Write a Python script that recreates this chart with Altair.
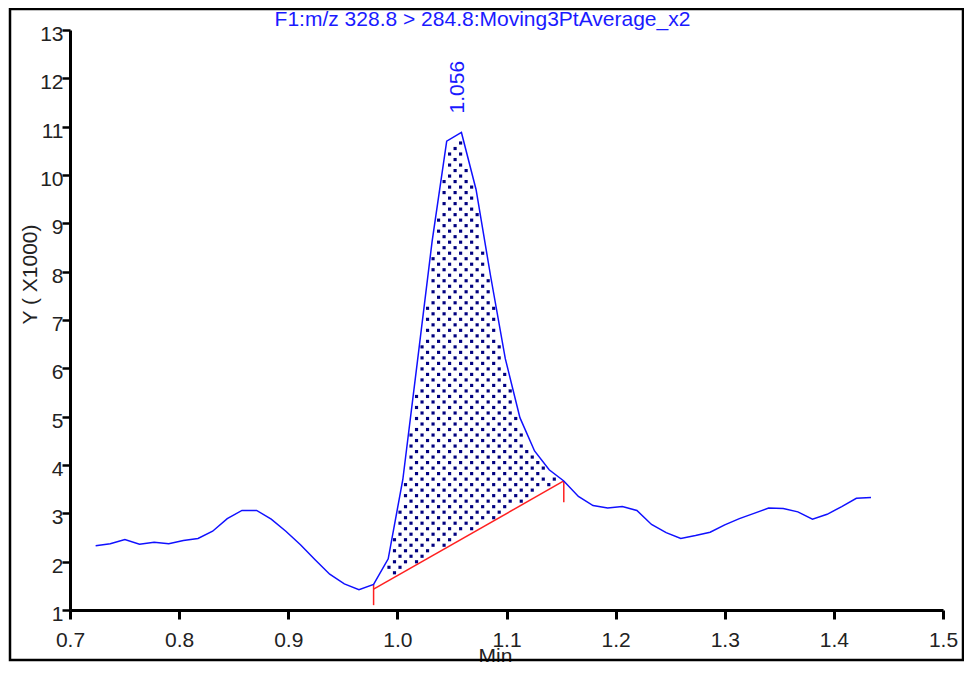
import altair as alt
import numpy as np
import pandas as pd

# ---- data ----
time_min = [0.7235, 0.7369, 0.7503, 0.7637, 0.7771, 0.7905, 0.8039, 0.8173, 0.8307, 0.8441,
            0.8576, 0.8710, 0.8844, 0.8978, 0.9112, 0.9246, 0.9380, 0.9514, 0.9648, 0.9782,
            0.9916, 1.0050, 1.0184, 1.0318, 1.0452, 1.0587, 1.0721, 1.0855, 1.0989, 1.1123,
            1.1257, 1.1391, 1.1525, 1.1659, 1.1793, 1.1927, 1.2061, 1.2195, 1.2329, 1.2463,
            1.2597, 1.2732, 1.2866, 1.3000, 1.3134, 1.3268, 1.3402, 1.3536, 1.3670, 1.3804,
            1.3938, 1.4072, 1.4206, 1.4340]
intensity_k = [2.33, 2.37, 2.46, 2.36, 2.40, 2.37, 2.44, 2.48, 2.63, 2.89,
               3.06, 3.06, 2.88, 2.63, 2.35, 2.04, 1.74, 1.54, 1.42, 1.53,
               2.06, 3.70, 6.15, 8.62, 10.70, 10.88, 9.70, 7.90, 6.20, 4.98,
               4.29, 3.90, 3.67, 3.35, 3.16, 3.11, 3.14, 3.06, 2.77, 2.60,
               2.48, 2.54, 2.61, 2.76, 2.89, 3.00, 3.11, 3.10, 3.03, 2.88,
               2.98, 3.14, 3.31, 3.33]

baseline_time = [0.9782, 1.1525]
baseline_level = [1.43, 3.67]
marker_top = [1.53, 3.67]
marker_bottom = [1.10, 3.23]

peak_rt = 1.056
peak_height = 10.88
peak_label = "1.056"

x_ticks = [0.7, 0.8, 0.9, 1.0, 1.1, 1.2, 1.3, 1.4, 1.5]
y_ticks = list(range(1, 14))

title_text = "F1:m/z 328.8 > 284.8:Moving3PtAverage_x2"

# ---- frames ----
trace = pd.DataFrame({"t": time_min, "y": intensity_k})
base = pd.DataFrame({"t": baseline_time, "y": baseline_level})
markers = pd.DataFrame({"t": baseline_time, "y": marker_top, "y2": marker_bottom})
peak = pd.DataFrame({"t": [peak_rt], "y": [peak_height], "label": [peak_label]})

# dotted texture filling the integrated area (derived from the trace and baseline)
t_arr = np.array(time_min)
y_arr = np.array(intensity_k)
dot_dx = 0.0101
dot_dy = 0.114
dots = []
row = 0
yy = 1.2
while yy < 11.0:
    shift = (row % 2) * dot_dx / 2
    xx = baseline_time[0] + 0.004 + shift
    while xx < baseline_time[1]:
        top = min(np.interp(xx - 0.002, t_arr, y_arr), np.interp(xx, t_arr, y_arr),
                  np.interp(xx + 0.002, t_arr, y_arr)) - 0.05
        bot = np.interp(xx, baseline_time, baseline_level) + 0.06
        if bot < yy < top:
            dots.append({"t": xx, "y": yy})
        xx += dot_dx
    yy += dot_dy
    row += 1
dots_df = pd.DataFrame(dots)

FONT = "Liberation Sans"
W, H = 873, 580
XS = alt.Scale(domain=[0.7, 1.5], nice=False, zero=False)
YS = alt.Scale(domain=[1, 13], nice=False, zero=False)

x_axis = alt.Axis(values=x_ticks, format=".1f", title="Min", grid=False,
                  domainColor="black", domainWidth=3, tickColor="black", tickWidth=3,
                  tickSize=9, labelFontSize=21, labelColor="#222", labelFont=FONT,
                  labelPadding=10, labelFlush=False,
                  titleFontSize=21, titleFont=FONT, titleFontWeight="normal",
                  titleColor="#222", titleX=425, titleY=35, titleBaseline="top",
                  titleAlign="center")
y_axis = alt.Axis(values=y_ticks, title="Y ( X1000)", grid=False,
                  domainColor="black", domainWidth=3, tickColor="black", tickWidth=2.5,
                  tickSize=8, labelFontSize=21, labelColor="#222", labelFont=FONT,
                  labelPadding=-1, labelOffset=4.5, labelFlush=False, labelBaseline="middle",
                  titleFontSize=21, titleFont=FONT, titleFontWeight="normal",
                  titleColor="#222", titleX=-40, titleY=244, titleAngle=270,
                  titleBaseline="middle", titleAlign="center")

frame = alt.Chart(pd.DataFrame({"a": [0]})).mark_rect(
    fillOpacity=0, stroke="black", strokeWidth=2.5
).encode(x=alt.value(-60), x2=alt.value(893), y=alt.value(-21), y2=alt.value(630))

dot_layer = alt.Chart(dots_df).mark_square(size=10, color="#000080", opacity=1).encode(
    x=alt.X("t:Q", scale=XS, axis=x_axis),
    y=alt.Y("y:Q", scale=YS, axis=y_axis),
)

base_layer = alt.Chart(base).mark_line(color="#ff2020", strokeWidth=1.5).encode(
    x=alt.X("t:Q", scale=XS), y=alt.Y("y:Q", scale=YS)
)

marker_layer = alt.Chart(markers).mark_rule(color="#ff2020", strokeWidth=1.5).encode(
    x=alt.X("t:Q", scale=XS), y=alt.Y("y:Q", scale=YS), y2="y2:Q"
)

trace_layer = alt.Chart(trace).mark_line(color="#1010ff", strokeWidth=1.5).encode(
    x=alt.X("t:Q", scale=XS, axis=x_axis), y=alt.Y("y:Q", scale=YS, axis=y_axis)
)

peak_layer = alt.Chart(peak).mark_text(
    angle=270, align="left", baseline="middle", dx=19, fontSize=21,
    font=FONT, color="#1a1aff"
).encode(x=alt.X("t:Q", scale=XS), y=alt.Y("y:Q", scale=YS), text="label:N")

chart = alt.layer(frame, dot_layer, base_layer, marker_layer, trace_layer, peak_layer).properties(
    width=W, height=H,
    title=alt.TitleParams(title_text, color="#1a1aff", fontSize=21, font=FONT,
                          fontWeight="normal", anchor="middle", dx=-24, offset=-22),
    autosize=alt.AutoSizeParams(type="none"),
    padding={"left": 62, "top": 22, "right": 21, "bottom": 52},
    background="white",
).configure_view(stroke="transparent", strokeWidth=0)

chart.save("out.html", embed_options={"renderer": "svg", "actions": False})
